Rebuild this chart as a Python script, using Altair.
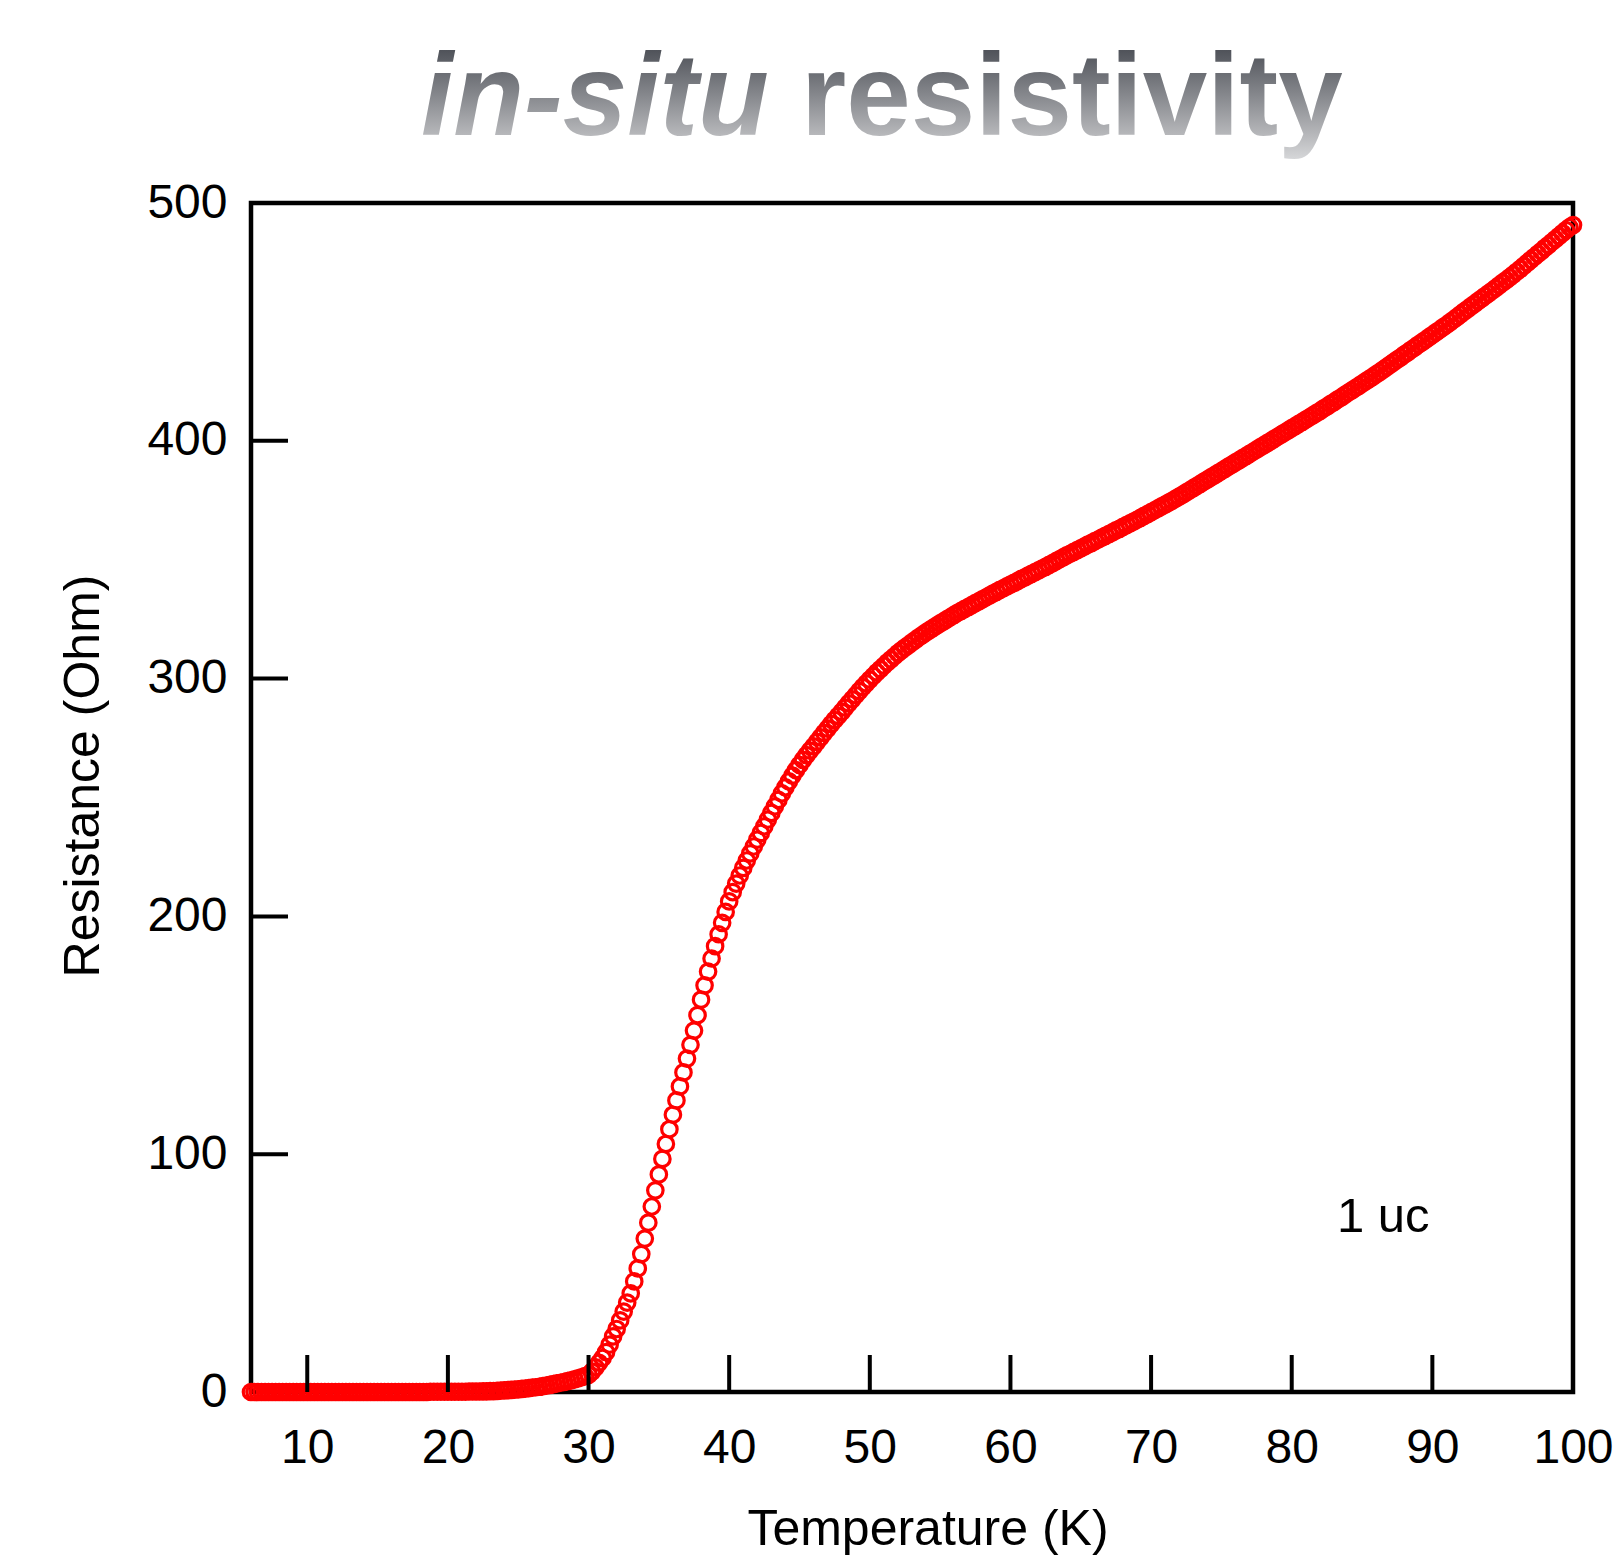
import altair as alt
import pandas as pd

# ---------------- data ----------------
temperature = [
    6.0, 6.25, 6.5, 6.75, 7.0, 7.25, 7.5, 7.75, 8.0, 8.25, 8.5, 8.75,
    9.0, 9.25, 9.5, 9.75, 10.0, 10.25, 10.5, 10.75, 11.0, 11.25, 11.5, 11.75,
    12.0, 12.25, 12.5, 12.75, 13.0, 13.25, 13.5, 13.75, 14.0, 14.25, 14.5, 14.75,
    15.0, 15.25, 15.5, 15.75, 16.0, 16.25, 16.5, 16.75, 17.0, 17.25, 17.5, 17.75,
    18.0, 18.25, 18.5, 18.75, 19.0, 19.25, 19.5, 19.75, 20.0, 20.25, 20.5, 20.75,
    21.0, 21.25, 21.5, 21.75, 22.0, 22.25, 22.5, 22.75, 23.0, 23.25, 23.5, 23.75,
    24.0, 24.25, 24.5, 24.75, 25.0, 25.25, 25.5, 25.75, 26.0, 26.25, 26.5, 26.75,
    27.0, 27.25, 27.5, 27.75, 28.0, 28.25, 28.5, 28.75, 29.0, 29.25, 29.5, 29.75,
    30.0, 30.25, 30.5, 30.75, 31.0, 31.25, 31.5, 31.75, 32.0, 32.25, 32.5, 32.75,
    33.0, 33.25, 33.5, 33.75, 34.0, 34.25, 34.5, 34.75, 35.0, 35.25, 35.5, 35.75,
    36.0, 36.25, 36.5, 36.75, 37.0, 37.25, 37.5, 37.75, 38.0, 38.25, 38.5, 38.75,
    39.0, 39.25, 39.5, 39.75, 40.0, 40.25, 40.5, 40.75, 41.0, 41.25, 41.5, 41.75,
    42.0, 42.25, 42.5, 42.75, 43.0, 43.25, 43.5, 43.75, 44.0, 44.25, 44.5, 44.75,
    45.0, 45.25, 45.5, 45.75, 46.0, 46.25, 46.5, 46.75, 47.0, 47.25, 47.5, 47.75,
    48.0, 48.25, 48.5, 48.75, 49.0, 49.25, 49.5, 49.75, 50.0, 50.25, 50.5, 50.75,
    51.0, 51.25, 51.5, 51.75, 52.0, 52.25, 52.5, 52.75, 53.0, 53.25, 53.5, 53.75,
    54.0, 54.25, 54.5, 54.75, 55.0, 55.25, 55.5, 55.75, 56.0, 56.25, 56.5, 56.75,
    57.0, 57.25, 57.5, 57.75, 58.0, 58.25, 58.5, 58.75, 59.0, 59.25, 59.5, 59.75,
    60.0, 60.25, 60.5, 60.75, 61.0, 61.25, 61.5, 61.75, 62.0, 62.25, 62.5, 62.75,
    63.0, 63.25, 63.5, 63.75, 64.0, 64.25, 64.5, 64.75, 65.0, 65.25, 65.5, 65.75,
    66.0, 66.25, 66.5, 66.75, 67.0, 67.25, 67.5, 67.75, 68.0, 68.25, 68.5, 68.75,
    69.0, 69.25, 69.5, 69.75, 70.0, 70.25, 70.5, 70.75, 71.0, 71.25, 71.5, 71.75,
    72.0, 72.25, 72.5, 72.75, 73.0, 73.25, 73.5, 73.75, 74.0, 74.25, 74.5, 74.75,
    75.0, 75.25, 75.5, 75.75, 76.0, 76.25, 76.5, 76.75, 77.0, 77.25, 77.5, 77.75,
    78.0, 78.25, 78.5, 78.75, 79.0, 79.25, 79.5, 79.75, 80.0, 80.25, 80.5, 80.75,
    81.0, 81.25, 81.5, 81.75, 82.0, 82.25, 82.5, 82.75, 83.0, 83.25, 83.5, 83.75,
    84.0, 84.25, 84.5, 84.75, 85.0, 85.25, 85.5, 85.75, 86.0, 86.25, 86.5, 86.75,
    87.0, 87.25, 87.5, 87.75, 88.0, 88.25, 88.5, 88.75, 89.0, 89.25, 89.5, 89.75,
    90.0, 90.25, 90.5, 90.75, 91.0, 91.25, 91.5, 91.75, 92.0, 92.25, 92.5, 92.75,
    93.0, 93.25, 93.5, 93.75, 94.0, 94.25, 94.5, 94.75, 95.0, 95.25, 95.5, 95.75,
    96.0, 96.25, 96.5, 96.75, 97.0, 97.25, 97.5, 97.75, 98.0, 98.25, 98.5, 98.75,
    99.0, 99.25, 99.5, 99.75, 100.0,
]

resistance = [
    0.0, 0.0, 0.0, 0.0, 0.0, 0.0, 0.0, 0.0, 0.0, 0.0, 0.0, 0.0,
    0.0, 0.0, 0.0, 0.0, 0.0, 0.0, 0.0, 0.0, 0.0, 0.0, 0.0, 0.0,
    0.0, 0.0, 0.0, 0.0, 0.0, 0.0, 0.0, 0.0, 0.0, 0.0, 0.0, 0.0,
    0.0, 0.0, 0.0, 0.0, 0.0, 0.0, 0.0, 0.0, 0.0, 0.0, 0.0, 0.0,
    0.0, 0.0, 0.0, 0.1, 0.1, 0.1, 0.1, 0.1, 0.1, 0.1, 0.1, 0.1,
    0.1, 0.1, 0.2, 0.2, 0.2, 0.2, 0.3, 0.3, 0.4, 0.4, 0.5, 0.6,
    0.7, 0.8, 0.9, 1.0, 1.1, 1.3, 1.4, 1.6, 1.8, 2.0, 2.2, 2.5,
    2.7, 3.0, 3.3, 3.6, 3.9, 4.2, 4.6, 4.9, 5.3, 5.7, 6.2, 6.7,
    7.2, 8.6, 10.4, 12.3, 14.3, 16.8, 19.9, 23.4, 26.5, 30.1, 33.8, 37.6,
    41.5, 46.5, 52.0, 58.0, 64.5, 71.2, 78.0, 84.8, 91.5, 98.0, 104.3, 110.5,
    116.6, 122.6, 128.5, 134.4, 140.2, 146.0, 152.0, 158.5, 165.0, 171.0, 176.8, 182.3,
    187.5, 192.5, 197.3, 201.9, 206.3, 210.2, 213.8, 217.2, 220.4, 223.5, 226.5, 229.4,
    232.3, 235.1, 237.9, 240.7, 243.5, 246.3, 249.0, 251.7, 254.3, 256.8, 259.2, 261.5,
    263.7, 265.8, 267.8, 269.7, 271.5, 273.4, 275.3, 277.2, 279.0, 280.9, 282.6, 284.3,
    286.0, 287.8, 289.6, 291.3, 293.0, 294.7, 296.4, 298.0, 299.6, 301.1, 302.6, 304.0,
    305.4, 306.8, 308.1, 309.4, 310.7, 311.9, 313.0, 314.1, 315.2, 316.3, 317.4, 318.4,
    319.4, 320.4, 321.3, 322.3, 323.2, 324.1, 325.0, 325.9, 326.8, 327.7, 328.5, 329.3,
    330.1, 330.9, 331.7, 332.5, 333.3, 334.1, 334.9, 335.7, 336.5, 337.3, 338.0, 338.8,
    339.5, 340.3, 341.0, 341.8, 342.5, 343.3, 344.0, 344.8, 345.5, 346.3, 347.0, 347.8,
    348.6, 349.4, 350.2, 351.0, 351.8, 352.5, 353.3, 354.0, 354.8, 355.5, 356.3, 357.0,
    357.8, 358.5, 359.3, 360.0, 360.8, 361.5, 362.3, 363.0, 363.8, 364.5, 365.3, 366.0,
    366.8, 367.6, 368.4, 369.2, 370.0, 370.8, 371.6, 372.4, 373.2, 374.0, 374.8, 375.7,
    376.5, 377.4, 378.3, 379.2, 380.1, 381.0, 381.9, 382.8, 383.7, 384.6, 385.5, 386.4,
    387.3, 388.2, 389.1, 390.0, 390.9, 391.8, 392.7, 393.6, 394.5, 395.4, 396.3, 397.2,
    398.1, 399.0, 399.9, 400.8, 401.7, 402.6, 403.5, 404.4, 405.3, 406.2, 407.1, 408.0,
    408.9, 409.8, 410.7, 411.6, 412.5, 413.5, 414.4, 415.4, 416.3, 417.3, 418.2, 419.2,
    420.2, 421.1, 422.1, 423.0, 424.0, 425.0, 425.9, 426.9, 427.9, 428.9, 429.9, 431.0,
    432.0, 433.1, 434.1, 435.1, 436.2, 437.2, 438.3, 439.3, 440.4, 441.4, 442.4, 443.5,
    444.5, 445.6, 446.6, 447.7, 448.7, 449.8, 450.9, 452.0, 453.2, 454.3, 455.4, 456.5,
    457.6, 458.7, 459.8, 460.9, 462.0, 463.1, 464.2, 465.4, 466.5, 467.6, 468.7, 469.9,
    471.1, 472.3, 473.6, 474.8, 476.1, 477.3, 478.6, 479.8, 481.1, 482.3, 483.6, 484.8,
    486.1, 487.3, 488.6, 489.8, 490.7,
]

x_tick_labels = [10, 20, 30, 40, 50, 60, 70, 80, 90, 100]
y_tick_labels = [0, 100, 200, 300, 400, 500]
x_inner_ticks = [10, 20, 30, 40, 50, 60, 70, 80, 90]
y_inner_ticks = [100, 200, 300, 400]
x_domain = [6, 100]
y_domain = [0, 500]

title_italic = "in-situ"
title_bold = "resistivity"
x_title = "Temperature (K)"
y_title = "Resistance (Ohm)"
sample_label = "1 uc"

# ---------------- layout ----------------
W, H = 1322, 1189
FONT = "Arial, Liberation Sans, sans-serif"
TICK_LEN = 37

df = pd.DataFrame({"T": temperature, "R": resistance})
xs = alt.Scale(domain=x_domain, nice=False, zero=False)
ys = alt.Scale(domain=y_domain, nice=False, zero=False)

x_axis = alt.Axis(values=x_tick_labels, labelFontSize=48, labelFont=FONT,
                  labelColor="black", domain=False, ticks=False, tickSize=0,
                  grid=False, title=None, labelPadding=32, labelFlush=False,
                  labelOverlap=False)
y_axis = alt.Axis(values=y_tick_labels, labelFontSize=48, labelFont=FONT,
                  labelColor="black", domain=False, ticks=False, tickSize=0,
                  grid=False, title=None, labelPadding=24, labelFlush=False,
                  labelOverlap=False)

points = alt.Chart(df).mark_point(
    shape="circle", filled=False, color="#ff0000", strokeWidth=3.2,
    size=240, opacity=1
).encode(
    x=alt.X("T:Q", scale=xs, axis=x_axis),
    y=alt.Y("R:Q", scale=ys, axis=y_axis),
)

xt = alt.Chart(pd.DataFrame({"T": x_inner_ticks})).mark_rule(
    color="black", strokeWidth=4
).encode(
    x=alt.X("T:Q", scale=xs, axis=x_axis),
    y=alt.value(H), y2=alt.value(H - TICK_LEN),
)

yt = alt.Chart(pd.DataFrame({"R": y_inner_ticks})).mark_rule(
    color="black", strokeWidth=4
).encode(
    y=alt.Y("R:Q", scale=ys, axis=y_axis),
    x=alt.value(0), x2=alt.value(TICK_LEN),
)

grad = alt.LinearGradient(
    gradient="linear",
    stops=[
        alt.GradientStop(color="#3a3d43", offset=0.0),
        alt.GradientStop(color="#50535a", offset=0.16),
        alt.GradientStop(color="#85878c", offset=0.5),
        alt.GradientStop(color="#b5b6b9", offset=0.8),
        alt.GradientStop(color="#d6d7d9", offset=1.0),
    ],
    x1=0, x2=0, y1=0, y2=1,
)


def label(txt, **kw):
    enc = {}
    for k in ("x", "y"):
        enc[k] = alt.value(kw.pop(k))
    return alt.Chart(pd.DataFrame({"t": [txt]})).mark_text(**kw).encode(
        text="t:N", **enc)


t1 = label(title_italic, x=170, y=-68.5, align="left", baseline="alphabetic",
           font=FONT, fontSize=116, fontWeight="bold", fontStyle="italic",
           color=grad)
t2 = label(title_bold, x=550, y=-68.5, align="left", baseline="alphabetic",
           font=FONT, fontSize=116, fontWeight="bold", color=grad)
tx = label(x_title, x=677, y=1342, align="center", baseline="alphabetic",
           font=FONT, fontSize=50, color="black")
ty = label(y_title, x=-152, y=573, align="center", baseline="alphabetic",
           font=FONT, fontSize=50, color="black", angle=270)
tuc = label(sample_label, x=1086, y=1029, align="left", baseline="alphabetic",
            font=FONT, fontSize=49, color="black")

chart = alt.layer(points, xt, yt, t1, t2, tx, ty, tuc).properties(
    width=W, height=H,
    autosize=alt.AutoSizeParams(type="none"),
    padding={"left": 243, "top": 195, "right": 42, "bottom": 166},
).configure_view(stroke="black", strokeWidth=4.5)

chart.save("out.html", embed_options={"renderer": "svg", "actions": False})
